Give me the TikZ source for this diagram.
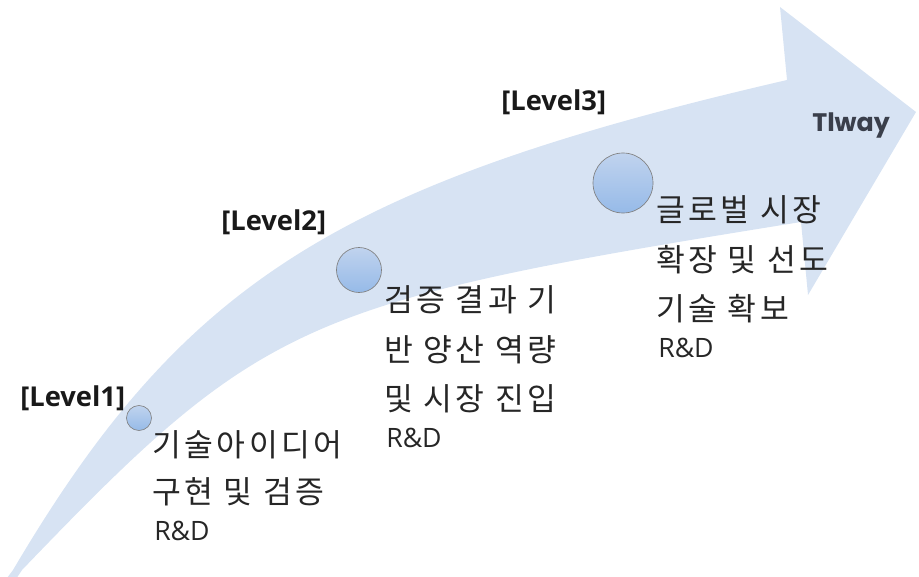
\documentclass[tikz,border=0pt]{standalone}
\usepackage{fontspec}
\newfontfamily\kofont{Noto Sans CJK KR}[LetterSpace=11]
\newfontfamily\lvfont{Open Sans}
\newfontfamily\tlfont{Poppins}
\definecolor{band}{RGB}{215,227,243}
\definecolor{dotTop}{RGB}{192,211,238}
\definecolor{dotBot}{RGB}{150,186,232}
\definecolor{txt}{RGB}{38,38,38}
\definecolor{tlc}{RGB}{58,63,75}
\tikzset{
  dotc/.style={circle, inner sep=0pt, draw=black!50, line width=0.5pt, top color=dotTop, bottom color=dotBot},
  kline/.style={anchor=base west, inner sep=0pt, text=txt, font=\kofont\fontsize{23.5}{28}\selectfont},
  rdline/.style={anchor=base west, inner sep=0pt, text=txt, font=\lvfont\fontsize{20}{24}\selectfont},
  lvlabel/.style={anchor=base west, inner sep=0pt, text=black!90, font=\lvfont\bfseries\fontsize{20.5}{24}\selectfont},
}
\begin{document}
\begin{tikzpicture}[x=0.75pt,y=-0.75pt]
\useasboundingbox (0,0) rectangle (919,577);
% curved arrow
\fill[band] (4,582) -- (13,570) .. controls (183,282) and (337,184) .. (787,80)
  -- (780,7) -- (916,112) -- (808,295) -- (801,222)
  .. controls (302,302) and (263,319) .. (22,570) -- (14,582) -- cycle;
% circles
\node[dotc, minimum size=18.75pt] (c1) at (139,418) {};
\node[dotc, minimum size=33.75pt] (c2) at (359,270) {};
\node[dotc, minimum size=45pt] (c3) at (623,183) {};
% level labels
\node[lvlabel] (l1) at (20,406) {[Level1]};
\node[lvlabel] (l2) at (221,230) {[Level2]};
\node[lvlabel] (l3) at (501,111) {[Level3]};
% Tlway
\node[anchor=base west, inner sep=0pt, text=tlc, font=\tlfont\bfseries\fontsize{19}{22}\selectfont] (tw) at (812,132) {Tlway};
% level 1 text
\node[kline] (a1) at (152,456) {기술아이디어};
\node[kline] (a2) at (152,503) {구현 및 검증};
\node[rdline] (a3) at (154,540) {R\&D};
% level 2 text
\node[kline] (b1) at (384,311) {검증 결과 기};
\node[kline] (b2) at (384,361) {반 양산 역량};
\node[kline] (b3) at (384,410) {및 시장 진입};
\node[rdline] (b4) at (386,447) {R\&D};
% level 3 text
\node[kline] (d1) at (656,221) {글로벌 시장};
\node[kline] (d2) at (656,271) {확장 및 선도};
\node[kline] (d3) at (656,320) {기술 확보};
\node[rdline] (d4) at (658,357) {R\&D};
\end{tikzpicture}
\end{document}
